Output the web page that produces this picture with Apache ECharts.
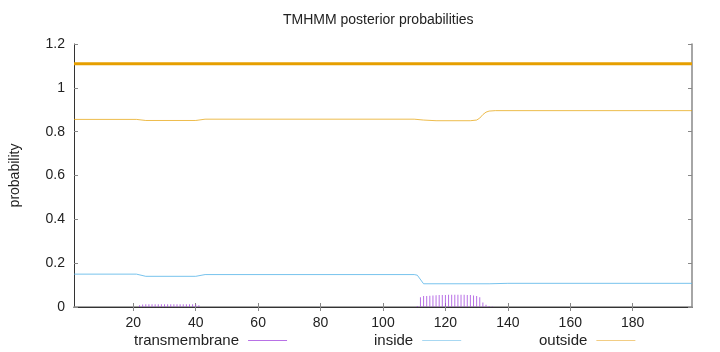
<!DOCTYPE html>
<html>
<head>
<meta charset="utf-8">
<script src="https://cdn.jsdelivr.net/npm/echarts@6/dist/echarts.min.js"></script>
<style>
  html, body { margin: 0; padding: 0; background: #fff; }
  #chart { width: 720px; height: 352px; }
</style>
</head>
<body>
<div id="chart"></div>
<script>
// line vertices: [residue, probability]
const outsideProb = [
  [1, 0.856], [21, 0.856], [24, 0.851], [40, 0.851], [43, 0.857],
  [110, 0.857], [113, 0.853], [117, 0.850], [128, 0.850], [130, 0.853],
  [131, 0.862], [132, 0.878], [133, 0.889], [134, 0.894], [136, 0.896], [199, 0.896]
]
const insideProb = [
  [1, 0.150], [21, 0.150], [24, 0.140], [40, 0.140], [43, 0.148],
  [110, 0.148], [111, 0.145], [113, 0.106], [134, 0.106], [140, 0.108], [199, 0.108]
]
// transmembrane impulses, one per residue
const tmResidues = [
  22, 23, 24, 25, 26, 27, 28, 29, 30, 31, 32, 33, 34, 35, 36, 37, 38, 39, 40, 41,
  111, 112, 113, 114, 115, 116, 117, 118, 119, 120, 121, 122, 123, 124, 125, 126,
  127, 128, 129, 130, 131, 132, 133, 134, 135
]
const tmValues = [
  0.008, 0.011, 0.012, 0.013, 0.013, 0.013, 0.013, 0.013, 0.013, 0.013,
  0.013, 0.013, 0.013, 0.013, 0.013, 0.013, 0.012, 0.012, 0.011, 0.008,
  0.004, 0.044, 0.050, 0.050, 0.051, 0.053, 0.054, 0.055, 0.055, 0.055, 0.056, 0.056,
  0.056, 0.056, 0.056, 0.056, 0.055, 0.055, 0.053, 0.050, 0.045, 0.020, 0.010, 0.005, 0.002
]
// predicted topology band
const topology = [[1, 1.11], [199, 1.11]]
const xTicks = [20, 40, 60, 80, 100, 120, 140, 160, 180]

const chart = echarts.init(document.getElementById('chart'))
const font = 'Liberation Sans'

const tmData = tmResidues.map((r, i) => [r, tmValues[i]])

chart.setOption({
  animation: false,
  textStyle: { fontFamily: font },
  title: {
    text: 'TMHMM posterior probabilities',
    left: 283, top: 13, padding: 0,
    textStyle: { fontFamily: font, fontSize: 14, fontWeight: 'normal', color: '#222' },
  },
  grid: { left: 73, right: 28, top: 44, bottom: 45 },
  legend: [
    { data: ['transmembrane'], left: 134 },
    { data: ['inside'], left: 374 },
    { data: ['outside'], left: 539 },
  ].map(l => ({
    ...l,
    top: 333, align: 'right', icon: 'rect', itemWidth: 39, itemHeight: 1,
    padding: 0, selectedMode: false,
    textStyle: { fontFamily: font, fontSize: 15, color: '#222', padding: [0, 4, 0, 0] },
  })),
  xAxis: [{
    type: 'value', min: 1, max: 199, position: 'bottom',
    axisLine: { lineStyle: { color: '#888', width: 1.5 } },
    axisTick: { inside: true, length: 4, customValues: xTicks, lineStyle: { color: '#888' } },
    axisLabel: { customValues: xTicks, color: '#222', fontSize: 14, margin: 9, fontFamily: font },
    splitLine: { show: false },
  }, {
    type: 'value', min: 1, max: 199, position: 'top',
    axisLine: { lineStyle: { color: '#333' } },
    axisTick: { inside: true, length: 4, customValues: xTicks, lineStyle: { color: '#888' } },
    axisLabel: { show: false },
    splitLine: { show: false },
  }],
  yAxis: [{
    type: 'value', min: 0, max: 1.2, interval: 0.2, position: 'left',
    name: 'probability', nameLocation: 'middle', nameGap: 52, nameRotate: 90,
    nameTextStyle: { fontFamily: font, fontSize: 14, color: '#222' },
    axisLine: { show: true, lineStyle: { color: '#333' } },
    axisTick: { show: true, inside: true, length: 4, lineStyle: { color: '#888' } },
    axisLabel: { color: '#222', fontSize: 14, margin: 9, fontFamily: font },
    splitLine: { show: false },
  }, {
    type: 'value', min: 0, max: 1.2, interval: 0.2, position: 'right',
    axisLine: { show: true, lineStyle: { color: '#888', width: 1.5 } },
    axisTick: { show: true, inside: true, length: 4, lineStyle: { color: '#888' } },
    axisLabel: { show: false },
    splitLine: { show: false },
  }],
  series: [
    {
      name: 'transmembrane', type: 'bar', data: tmData, barWidth: 1,
      itemStyle: { color: '#a64ee0', opacity: 0.8 },
    },
    {
      name: 'inside', type: 'line', data: insideProb, showSymbol: false,
      lineStyle: { color: '#56b4e9', width: 1, opacity: 0.8 },
      itemStyle: { color: '#a8d8f2' },
    },
    {
      name: 'outside', type: 'line', data: outsideProb, showSymbol: false,
      lineStyle: { color: '#e69f00', width: 1, opacity: 0.7 },
      itemStyle: { color: '#f2cd84' },
    },
    {
      name: 'topology', type: 'line', data: topology, showSymbol: false,
      lineStyle: { color: '#e69f00', width: 3 },
      itemStyle: { color: '#e69f00' },
    },
  ],
})
</script>
</body>
</html>
